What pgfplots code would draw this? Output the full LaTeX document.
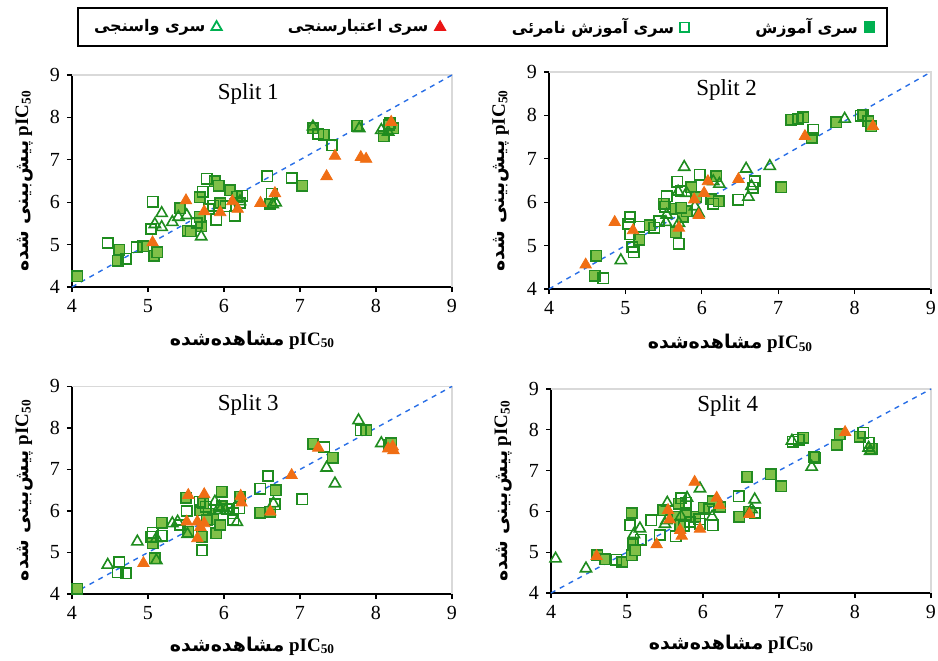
\documentclass[border=0pt]{standalone}
\usepackage{fontspec}
\setmainfont{Liberation Serif}
\newfontfamily\fa[Script=Arabic]{DejaVu Sans}
\TeXXeTstate=1
\usepackage{pgfplots}
\pgfplotsset{compat=1.18}

\definecolor{trfill}{RGB}{128,192,72}
\definecolor{trdraw}{RGB}{34,139,34}
\definecolor{gline}{RGB}{30,140,30}
\definecolor{valor}{RGB}{240,110,20}
\definecolor{diag}{RGB}{40,110,230}
\definecolor{leggreen}{RGB}{0,176,80}
\definecolor{legred}{RGB}{235,20,20}
\definecolor{framegray}{RGB}{217,217,217}

\newcommand{\pICval}{\textbf{pIC\textsubscript{50}}}
\newcommand{\fatext}[1]{{\fa\bfseries\beginR #1\endR}}

\pgfplotsset{
  splitax/.style={
    scale only axis,
    xmin=4, xmax=9, ymin=4, ymax=9,
    xtick={4,...,9}, ytick={4,...,9},
    axis lines=left,
    axis line style={-, black, line width=0.6pt},
    tick align=outside,
    major tick length=2.5pt,
    tick style={black, line width=0.6pt},
    ticklabel style={font=\fontsize{10}{12}\selectfont},
    /pgf/number format/assume math mode=true,
    clip=false,
    xlabel={\fatext{مشاهده‌شده}\ \pICval},
    ylabel={\fatext{پیش‌بینی شده}\ \pICval},
    label style={font=\fontsize{9.5}{11}\selectfont},
    xlabel style={at={(axis description cs:0.475,-0.25)}, anchor=center},
    ylabel style={at={(axis description cs:-0.126,0.5)}, anchor=center},
  },
  trs/.style={only marks, mark=square*, mark size=2.6pt, mark options={fill=trfill, draw=trdraw, line width=0.8pt}},
  uns/.style={only marks, mark=square, mark size=2.6pt, mark options={draw=gline, line width=0.8pt}},
  cal/.style={only marks, mark=triangle, mark size=3.2pt, mark options={draw=gline, line width=0.8pt}},
  val/.style={only marks, mark=triangle*, mark size=3.3pt, mark options={fill=valor, draw=valor}},
  diagl/.style={diag, line width=0.7pt, dash pattern=on 2.5pt off 2.5pt},
}

\begin{document}
\begin{tikzpicture}
\useasboundingbox (0,0) rectangle (469pt,330pt);

% ---------- Split 1 ----------
\begin{axis}[splitax, at={(36pt,186.5pt)}, anchor=south west, width=190pt, height=106pt,
  legend columns=4, legend plot pos=right,
  legend style={at={(axis description cs:1.080,1.226)}, anchor=center, draw=black, line width=1pt,
    font=\fontsize{8}{10}\selectfont, inner xsep=6pt, inner ysep=3pt,
    /tikz/every odd column/.style={column sep=1pt},
    /tikz/column 2/.style={column sep=31pt},
    /tikz/column 4/.style={column sep=31pt},
    /tikz/column 6/.style={column sep=31pt}}]
\addlegendimage{only marks, mark=triangle, mark size=3pt, mark options={draw=leggreen, line width=0.9pt}}
\addlegendentry{\fatext{سری واسنجی}}
\addlegendimage{only marks, mark=triangle*, mark size=3.3pt, mark options={fill=legred, draw=legred, line width=0.4pt}}
\addlegendentry{\fatext{سری اعتبارسنجی}}
\addlegendimage{only marks, mark=square, mark size=2.3pt, mark options={draw=leggreen, line width=0.9pt}}
\addlegendentry{\fatext{سری آموزش نامرئی}}
\addlegendimage{only marks, mark=square*, mark size=2.7pt, mark options={fill=leggreen, draw=leggreen, line width=0.4pt}}
\addlegendentry{\fatext{سری آموزش}}
\draw[framegray, line width=0.6pt] (rel axis cs:0,1) -- (rel axis cs:1,1) -- (rel axis cs:1,0);
\addplot[diagl, forget plot] coordinates {(4,4) (9,9)};
\addplot[trs, forget plot] coordinates {
(4.07,4.25) (4.60,4.62) (4.62,4.88) (4.94,4.96) (5.08,4.74) (5.12,4.82) (5.42,5.86)
(5.52,5.33) (5.56,5.31) (5.68,6.12) (5.70,5.43) (5.68,5.66) (5.88,6.49) (5.93,6.39)
(5.95,5.98) (6.08,6.28) (6.17,6.13) (6.61,5.96) (7.03,6.39) (7.17,7.74) (7.31,7.59)
(7.75,7.80) (8.10,7.55) (8.23,7.74) (8.17,7.82)};
\addplot[uns, forget plot] coordinates {
(4.47,5.04) (4.71,4.67) (4.85,4.94) (5.06,6.01) (5.04,5.37) (5.77,6.55) (5.72,6.25)
(5.64,5.51) (5.86,5.92) (5.90,5.59) (6.02,5.90) (6.14,5.68) (6.24,6.15) (6.21,5.98)
(6.57,6.61) (6.89,6.57) (6.63,6.20) (7.24,7.61) (7.42,7.34) (8.18,7.86) (5.80,5.84)};
\addplot[cal, forget plot] coordinates {
(5.18,5.74) (5.09,5.48) (5.18,5.41) (5.32,5.53) (5.40,5.65) (5.51,5.69) (5.70,5.19)
(7.17,7.78) (7.78,7.74) (8.07,7.70) (8.16,7.66) (6.68,5.99) (6.64,5.95) (6.21,6.02)};
\addplot[val, forget plot] coordinates {
(5.06,5.05) (5.50,6.04) (5.74,5.78) (5.95,5.76) (6.11,6.02) (6.18,5.84) (6.48,5.98)
(6.67,6.21) (7.35,6.61) (7.46,7.09) (7.80,7.06) (7.87,7.02) (8.20,7.89)};
\node[font=\fontsize{11.5}{13}\selectfont] at (rel axis cs:0.464,0.91) {Split 1};
\end{axis}

% ---------- Split 2 ----------
\begin{axis}[splitax, at={(274.5pt,185.5pt)}, anchor=south west, width=191pt, height=108.5pt]
\draw[framegray, line width=0.6pt] (rel axis cs:0,1) -- (rel axis cs:1,1) -- (rel axis cs:1,0);
\addplot[diagl] coordinates {(4,4) (9,9)};
\addplot[trs] coordinates {
(4.60,4.31) (4.62,4.77) (5.18,5.14) (5.32,5.47) (5.50,5.97) (5.66,5.31) (5.66,5.85)
(5.75,5.66) (5.80,5.79) (5.86,6.34) (5.93,6.12) (6.12,6.07) (6.19,6.60) (6.22,6.02)
(7.04,6.34) (7.33,7.96) (7.44,7.48) (7.76,7.84) (8.11,8.02) (8.18,7.86) (8.22,7.75)
(7.17,7.90) (5.73,5.87)};
\addplot[uns] coordinates {
(4.71,4.25) (5.06,5.66) (5.04,5.50) (5.06,5.26) (5.09,4.97) (5.11,4.85) (5.18,5.44)
(5.38,5.41) (5.44,5.56) (5.54,6.14) (5.68,6.47) (5.70,5.04) (5.73,6.25) (5.97,6.63)
(6.15,5.97) (6.48,6.06) (6.69,6.48) (6.67,6.33) (7.46,7.67) (7.26,7.92) (8.08,7.99)
(5.52,5.90)};
\addplot[cal] coordinates {
(4.94,4.66) (5.77,6.81) (6.58,6.77) (6.89,6.83) (7.87,7.92) (5.54,5.71) (5.53,5.54)
(5.69,6.24) (5.70,5.52) (5.80,6.21) (5.91,5.90) (6.15,6.48) (6.23,6.42) (6.61,6.12)
(6.65,6.37) (5.96,5.74)};
\addplot[val] coordinates {
(4.48,4.56) (4.86,5.54) (5.10,5.35) (5.70,5.41) (5.90,6.06) (5.96,5.70) (6.03,6.21)
(6.08,6.48) (6.48,6.53) (7.35,7.52) (8.24,7.75)};
\node[font=\fontsize{11.5}{13}\selectfont] at (rel axis cs:0.465,0.915) {Split 2};
\end{axis}

% ---------- Split 3 ----------
\begin{axis}[splitax, at={(36pt,33pt)}, anchor=south west, width=190pt, height=103.8pt]
\draw[framegray, line width=0.6pt] (rel axis cs:0,1) -- (rel axis cs:1,1) -- (rel axis cs:1,0);
\addplot[diagl] coordinates {(4,4) (9,9)};
\addplot[trs] coordinates {
(4.07,4.13) (5.09,4.86) (5.06,5.22) (5.18,5.72) (5.50,6.32) (5.53,5.50) (5.71,5.38)
(5.69,6.02) (5.73,6.18) (5.80,5.93) (5.86,5.80) (5.90,5.46) (5.95,5.66) (5.97,6.46)
(5.97,6.12) (6.48,5.96) (6.61,5.98) (6.68,6.50) (7.17,7.62) (7.43,7.28) (7.87,7.94)
(8.17,7.58) (8.20,7.63) (6.21,6.34) (5.77,5.78)};
\addplot[uns] coordinates {
(4.60,4.52) (4.62,4.77) (4.71,4.50) (5.04,5.38) (5.06,5.48) (5.18,5.40) (5.51,6.00)
(5.71,5.05) (5.68,6.22) (5.76,6.10) (6.12,5.94) (6.12,5.78) (6.20,6.06) (6.48,6.54)
(6.58,6.84) (6.67,6.16) (7.03,6.28) (7.32,7.54) (7.80,7.94) (5.42,5.66) (6.04,6.04)};
\addplot[cal] coordinates {
(4.47,4.70) (4.86,5.26) (5.11,4.81) (5.11,5.34) (5.32,5.70) (5.39,5.74) (5.52,5.44)
(5.88,6.22) (5.95,6.02) (6.02,6.02) (6.17,5.73) (6.65,6.18) (7.35,7.04) (7.46,6.66)
(7.77,8.18) (8.07,7.63) (5.94,6.10)};
\addplot[val] coordinates {
(4.94,4.74) (5.51,5.74) (5.53,6.38) (5.65,5.34) (5.65,5.74) (5.69,5.61) (5.74,6.40)
(5.74,5.70) (6.22,6.36) (6.23,6.20) (6.61,5.98) (6.89,6.86) (7.24,7.52) (8.16,7.50)
(8.23,7.46) (8.22,7.55)};
\node[font=\fontsize{11.5}{13}\selectfont] at (rel axis cs:0.464,0.91) {Split 3};
\end{axis}

% ---------- Split 4 ----------
\begin{axis}[splitax, at={(275.5pt,33.5pt)}, anchor=south west, width=190pt, height=102pt]
\draw[framegray, line width=0.6pt] (rel axis cs:0,1) -- (rel axis cs:1,1) -- (rel axis cs:1,0);
\addplot[diagl] coordinates {(4,4) (9,9)};
\addplot[trs] coordinates {
(4.61,4.92) (4.71,4.83) (4.94,4.76) (5.06,4.92) (5.06,5.96) (5.08,5.19) (5.11,5.05)
(5.48,6.03) (5.66,5.87) (5.68,6.19) (5.70,5.66) (5.90,5.87) (6.01,6.09) (6.23,6.11)
(6.48,5.87) (6.58,6.85) (6.89,6.91) (7.03,6.62) (7.32,7.81) (7.46,7.34) (7.76,7.63)
(7.80,7.89) (8.06,7.83) (8.22,7.54) (6.61,5.99) (6.13,6.25) (5.77,5.91)};
\addplot[uns] coordinates {
(4.86,4.82) (5.04,5.66) (5.18,5.31) (5.32,5.78) (5.43,5.42) (5.64,5.39) (5.71,6.32)
(5.77,6.21) (5.83,5.74) (5.95,5.81) (6.08,6.05) (6.13,5.66) (6.47,6.37) (6.68,5.96)
(7.18,7.71) (7.26,7.76) (7.48,7.32) (8.18,7.68) (8.11,7.93) (5.75,5.64) (5.96,5.70)};
\addplot[cal] coordinates {
(4.06,4.84) (4.46,4.60) (5.09,5.44) (5.17,5.58) (5.53,6.21) (5.52,5.78) (5.50,5.69)
(5.71,5.88) (5.79,6.33) (5.96,6.56) (6.12,5.87) (6.68,6.29) (6.64,6.05) (7.17,7.73)
(7.43,7.09) (8.20,7.48) (8.18,7.56)};
\addplot[val] coordinates {
(4.60,4.90) (5.39,5.19) (5.54,6.03) (5.56,5.80) (5.70,5.54) (5.72,5.40) (5.89,6.72)
(5.96,5.57) (6.18,6.33) (6.22,6.15) (6.61,5.93) (7.87,7.94)};
\node[font=\fontsize{11.5}{13}\selectfont] at (rel axis cs:0.465,0.915) {Split 4};
\end{axis}
\end{tikzpicture}
\end{document}
